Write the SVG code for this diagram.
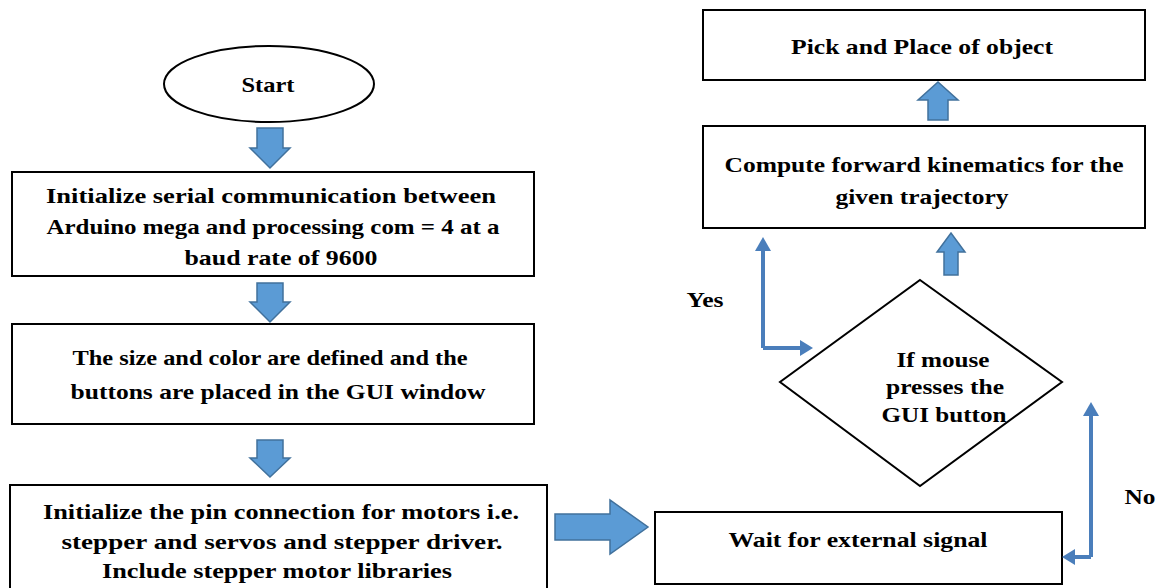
<svg xmlns="http://www.w3.org/2000/svg" width="1156" height="588" viewBox="0 0 1156 588">
<defs>
<style>
.box{fill:#fff;stroke:#000;stroke-width:2}
.t{font-family:"Liberation Serif","Times New Roman",serif;font-weight:bold;font-size:22px;fill:#000;text-anchor:middle}
.blk{fill:#5b9bd5;stroke:#41719c;stroke-width:1.5}
.ln{fill:none;stroke:#4a7ebb;stroke-width:4}
.hd{fill:#4a7ebb}
</style>
</defs>
<rect width="1156" height="588" fill="#fff"/>

<g id="start">
<ellipse class="box" cx="269" cy="84" rx="105" ry="38"/>
<text class="t" x="268" y="92" textLength="53" lengthAdjust="spacingAndGlyphs">Start</text>
</g>
<g id="init-serial">
<rect class="box" x="12" y="172" width="522" height="104"/>
<text class="t" x="271" y="203" textLength="450" lengthAdjust="spacingAndGlyphs">Initialize serial communication between</text>
<text class="t" x="273" y="234" textLength="453" lengthAdjust="spacingAndGlyphs">Arduino mega and processing com = 4 at a</text>
<text class="t" x="281" y="265" textLength="193" lengthAdjust="spacingAndGlyphs">baud rate of 9600</text>
</g>
<g id="size-color">
<rect class="box" x="12" y="324" width="522" height="100"/>
<text class="t" x="270" y="365" textLength="395" lengthAdjust="spacingAndGlyphs">The size and color are defined and the</text>
<text class="t" x="278" y="399" textLength="415" lengthAdjust="spacingAndGlyphs">buttons are placed in the GUI window</text>
</g>
<g id="init-pin">
<rect class="box" x="10" y="485" width="537" height="110"/>
<text class="t" x="281" y="519" textLength="476" lengthAdjust="spacingAndGlyphs">Initialize the pin connection for motors i.e.</text>
<text class="t" x="282" y="549" textLength="441" lengthAdjust="spacingAndGlyphs">stepper and servos and stepper driver.</text>
<text class="t" x="277" y="578" textLength="350" lengthAdjust="spacingAndGlyphs">Include stepper motor libraries</text>
</g>
<g id="wait">
<rect class="box" x="655" y="512" width="407" height="72"/>
<text class="t" x="858" y="547" textLength="259" lengthAdjust="spacingAndGlyphs">Wait for external signal</text>
</g>
<g id="decision">
<polygon class="box" points="920,280 1062,382 920,486 780,382"/>
<text class="t" x="943" y="367" textLength="93" lengthAdjust="spacingAndGlyphs">If mouse</text>
<text class="t" x="945" y="394" textLength="118" lengthAdjust="spacingAndGlyphs">presses the</text>
<text class="t" x="944" y="422" textLength="125" lengthAdjust="spacingAndGlyphs">GUI button</text>
</g>
<g id="compute">
<rect class="box" x="703" y="126" width="442" height="102"/>
<text class="t" x="924" y="172" textLength="399" lengthAdjust="spacingAndGlyphs">Compute forward kinematics for the</text>
<text class="t" x="922" y="204" textLength="173" lengthAdjust="spacingAndGlyphs">given trajectory</text>
</g>
<g id="pick">
<rect class="box" x="703" y="10" width="442" height="70"/>
<text class="t" x="922" y="54" textLength="262" lengthAdjust="spacingAndGlyphs">Pick and Place of object</text>
</g>

<g id="connectors">
<path class="blk" d="M257,128 H283 V148 H290 L270,168 L250,148 H257 Z"/>
<path class="blk" d="M257,283 H283 V302 H290 L270,322 L250,302 H257 Z"/>
<path class="blk" d="M257,440 H283 V458 H290 L270,477 L250,458 H257 Z"/>
<path class="blk" d="M555,514 H610 V500 L648,527 L610,554 V540 H555 Z"/>
<path class="blk" d="M944,275 V252 H937 L951,233 L965,252 H958 V275 Z"/>
<path class="blk" d="M928,120 V100 H918 L938,82 L958,100 H948 V120 Z"/>
<path class="ln" d="M763,348 V250 M763,348 H804"/>
<polygon class="hd" points="763,237 771,251 755,251"/>
<polygon class="hd" points="813,348 800,340 800,356"/>
<path class="ln" d="M1091,557 V412 M1091,557 H1072"/>
<polygon class="hd" points="1091,402 1099,416 1083,416"/>
<polygon class="hd" points="1062,557 1075,549 1075,565"/>
<text class="t" x="705" y="307" textLength="37" lengthAdjust="spacingAndGlyphs">Yes</text>
<text class="t" x="1140" y="504" textLength="31" lengthAdjust="spacingAndGlyphs">No</text>
</g>
</svg>
